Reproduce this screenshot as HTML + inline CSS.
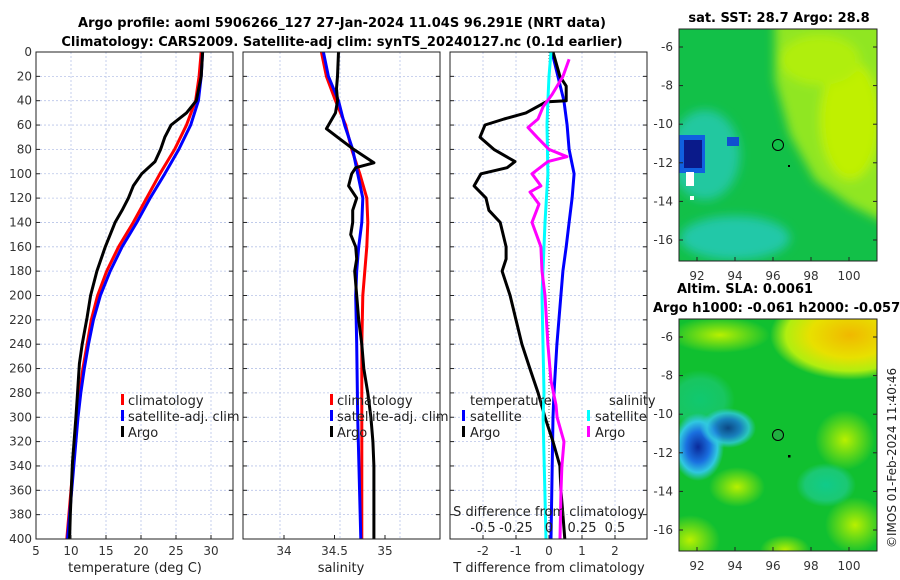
<!DOCTYPE html>
<html><head><meta charset="utf-8"><style>
body{margin:0;background:#fff;}
svg{display:block;font-family:"DejaVu Sans","Liberation Sans",sans-serif;}
</style></head><body>
<svg id="fig" width="900" height="580" viewBox="0 0 900 580">
<defs>
<radialGradient id="gCy" cx="0.5" cy="0.5" r="0.5"><stop offset="0" stop-color="#10d0b0"/><stop offset="0.7" stop-color="#20cc90"/><stop offset="1" stop-color="#20cc90" stop-opacity="0"/></radialGradient>
<radialGradient id="gBlue" cx="0.5" cy="0.5" r="0.5"><stop offset="0" stop-color="#0a2a9a"/><stop offset="0.45" stop-color="#1a70e0"/><stop offset="0.75" stop-color="#30c8e0"/><stop offset="1" stop-color="#30c8e0" stop-opacity="0"/></radialGradient>
<radialGradient id="gOr" cx="0.5" cy="0.5" r="0.5"><stop offset="0" stop-color="#f0b800"/><stop offset="0.5" stop-color="#e8e000"/><stop offset="0.8" stop-color="#b0ee10"/><stop offset="1" stop-color="#b0ee10" stop-opacity="0"/></radialGradient>
<radialGradient id="gLY" cx="0.5" cy="0.5" r="0.5"><stop offset="0" stop-color="#b8f000"/><stop offset="1" stop-color="#b8f000" stop-opacity="0"/></radialGradient>
<filter id="blur" x="-20%" y="-20%" width="140%" height="140%"><feGaussianBlur stdDeviation="5"/></filter>
<clipPath id="cTop"><rect x="679" y="29" width="198" height="232"/></clipPath>
<clipPath id="cBot"><rect x="679" y="319" width="198" height="232"/></clipPath>
</defs>
<text x="342" y="27" text-anchor="middle" font-size="13" font-weight="bold">Argo profile: aoml 5906266_127 27-Jan-2024 11.04S 96.291E (NRT data)</text>
<text x="342" y="46" text-anchor="middle" font-size="13" font-weight="bold">Climatology: CARS2009. Satellite-adj clim: synTS_20240127.nc (0.1d earlier)</text>
<g id="panels"></g>

<!-- top map -->
<g clip-path="url(#cTop)">
<rect x="679" y="29" width="198" height="232" fill="#12c048"/>
<g filter="url(#blur)">
<polygon points="775,20 890,20 890,225 850,205 815,180 790,135 775,80" fill="#90e620"/>
<ellipse cx="850" cy="120" rx="30" ry="60" fill="#c0f000"/>
<ellipse cx="820" cy="60" rx="40" ry="25" fill="#b0ee10"/>
<ellipse cx="705" cy="155" rx="35" ry="45" fill="#20c8a0"/>
<ellipse cx="735" cy="238" rx="55" ry="22" fill="#20c8a8"/>
</g>
<rect x="679" y="135" width="26" height="38" fill="#1060e0"/>
<rect x="684" y="140" width="18" height="28" fill="#0a1a8a"/>
<rect x="727" y="137" width="12" height="9" fill="#1050d0"/>
<rect x="686" y="172" width="8" height="14" fill="#fff"/>
<rect x="690" y="196" width="4" height="4" fill="#fff"/>
<circle cx="778" cy="145" r="5.5" fill="none" stroke="#000" stroke-width="1"/>
<rect x="788" y="165" width="2" height="2" fill="#000"/>
</g>
<rect x="679" y="29" width="198" height="232" fill="none" stroke="#222"/>
<text x="779" y="22" text-anchor="middle" font-size="13" font-weight="bold">sat. SST: 28.7 Argo: 28.8</text>

<!-- bottom map -->
<g clip-path="url(#cBot)">
<rect x="679" y="319" width="198" height="232" fill="#10c030"/>
<ellipse cx="850" cy="335" rx="80" ry="45" fill="url(#gOr)"/>
<ellipse cx="720" cy="335" rx="50" ry="18" fill="url(#gLY)"/>
<ellipse cx="700" cy="400" rx="35" ry="30" fill="url(#gCy)" opacity="0.5"/>
<ellipse cx="698" cy="447" rx="26" ry="34" fill="url(#gBlue)"/>
<ellipse cx="728" cy="428" rx="28" ry="20" fill="url(#gBlue)" opacity="0.8"/>
<ellipse cx="845" cy="440" rx="30" ry="30" fill="url(#gLY)"/>
<ellipse cx="826" cy="485" rx="30" ry="22" fill="url(#gCy)" opacity="0.7"/>
<ellipse cx="737" cy="487" rx="28" ry="20" fill="url(#gLY)"/>
<ellipse cx="855" cy="525" rx="30" ry="28" fill="url(#gLY)"/>
<ellipse cx="690" cy="540" rx="30" ry="25" fill="url(#gLY)"/>
<ellipse cx="785" cy="550" rx="25" ry="15" fill="url(#gLY)"/>
<circle cx="778" cy="435" r="5.5" fill="#20b040" stroke="#000" stroke-width="1"/>
<rect x="788" y="455" width="2.5" height="2.5" fill="#000"/>
</g>
<rect x="679" y="319" width="198" height="232" fill="none" stroke="#222"/>
<text x="677" y="293" font-size="13" font-weight="bold">Altim. SLA: 0.0061</text>
<text x="653" y="312" font-size="13" font-weight="bold">Argo h1000: -0.061 h2000: -0.057</text>
<text transform="translate(896,548) rotate(-90)" font-size="12" fill="#222">©IMOS 01-Feb-2024 11:40:46</text>
<g id="mapaxes"></g>
</svg>
<script>
// ---- data ----
const depthsT = [0,20,40,60,80,100,120,140,160,180,200,220,240,260,280,300,340,380,400];
const tempClim = [28.6,28.3,27.8,26.5,24.8,22.7,20.8,18.9,16.8,15.1,13.8,12.9,12.3,11.7,11.2,10.9,10.3,9.7,9.4];
const tempSat  = [28.8,28.6,28.2,27.1,25.4,23.4,21.3,19.4,17.3,15.6,14.2,13.2,12.5,11.9,11.4,11.0,10.4,9.8,9.5];
const depthsA = [0,20,40,50,60,70,80,90,100,110,120,130,140,160,180,200,218,240,256,283,300,338,380,400];
const tempArgo = [28.8,28.6,27.9,26.5,24.3,23.4,22.8,22.0,20.1,18.9,18.2,17.3,16.3,14.9,13.7,12.8,12.3,11.6,11.2,10.9,10.7,10.2,9.9,9.8];

const depthsS = [0,20,40,60,80,100,120,140,160,180,200,240,300,400];
const salClim = [34.37,34.42,34.51,34.61,34.67,34.75,34.82,34.83,34.82,34.80,34.78,34.77,34.77,34.77];
const salSat  = [34.39,34.44,34.54,34.60,34.68,34.73,34.78,34.77,34.74,34.72,34.71,34.72,34.73,34.76];
const depthsSA = [0,20,30,40,50,63,70,80,91,95,100,110,120,130,140,150,160,170,180,200,220,240,260,280,300,320,340,360,380,400];
const salArgo = [34.54,34.53,34.52,34.53,34.51,34.42,34.53,34.69,34.89,34.71,34.67,34.64,34.72,34.68,34.68,34.66,34.71,34.72,34.70,34.72,34.74,34.77,34.79,34.83,34.86,34.88,34.89,34.89,34.89,34.89];

const depthsD = [0,20,40,60,80,100,120,140,160,180,200,240,280,300,400];
const tDiffSat = [0.09,0.27,0.45,0.55,0.61,0.76,0.70,0.61,0.52,0.42,0.36,0.24,0.15,0.12,0.06];
const depthsDA = [0,20,28,40,41,50,55,60,70,80,90,95,100,110,120,130,140,160,170,180,200,220,240,260,280,300,320,340,360,380,400];
const tDiffArgo = [0.12,0.33,0.52,0.52,-0.09,-0.70,-1.36,-1.94,-2.09,-1.67,-1.03,-1.27,-2.06,-2.27,-1.91,-1.82,-1.48,-1.30,-1.30,-1.42,-1.18,-1.00,-0.82,-0.58,-0.33,-0.12,0.12,0.33,0.36,0.42,0.48];
const depthsDS = [0,20,40,60,100,140,200,280,300,400];
const sDiffSat = [0.015,0.0,-0.008,-0.015,-0.008,-0.03,-0.053,-0.038,-0.045,-0.023];
const depthsDSA = [6,20,35,45,55,62,70,80,86,90,100,110,115,125,140,160,180,200,240,270,290,300,320,340,360,400];
const sDiffArgo = [0.152,0.106,0.023,-0.045,-0.083,-0.159,-0.091,0.0,0.136,-0.008,-0.129,-0.061,-0.144,-0.076,-0.129,-0.061,-0.053,-0.030,-0.008,0.015,0.053,0.061,0.114,0.098,0.091,0.083];

const depthTicks = [0,20,40,60,80,100,120,140,160,180,200,220,240,260,280,300,320,340,360,380,400];
const tempTicks = [5,10,15,20,25,30];
const salTicks = [34,34.5,35];
const tdTicks = [-2,-1,0,1,2];
const sdTicks = [-0.5,-0.25,0,0.25,0.5];
const lonTicks = [92,94,96,98,100];
const latTicks = [-6,-8,-10,-12,-14,-16];

// ---- helpers ----
const NS='http://www.w3.org/2000/svg';
const root=document.getElementById('panels');
function mk(tag,attrs,parent){const e=document.createElementNS(NS,tag);for(const k in attrs)e.setAttribute(k,attrs[k]);(parent||root).appendChild(e);return e;}
const Y0=52,Y1=539;
const yD=d=>Y0+(d/400)*(Y1-Y0);
function lin(d0,d1,p0,p1){return v=>p0+(v-d0)*(p1-p0)/(d1-d0);}
const xT=lin(5,10,36,71);
const xS=lin(34,35,284,385);
const xTD=lin(0,1,549,582);
const xSD=lin(0,1,549,681);

function panel(name,x0,x1,gridX,labelsY){
  const g=mk('g',{});
  
  
  gridX.forEach(x=>{const l=mk('line',{x1:x,x2:x,y1:Y0,y2:Y1,stroke:'#b8c4e8','stroke-width':0.8,'stroke-dasharray':'2,2'},g);
    });
  depthTicks.forEach(d=>{const y=yD(d);
    const l=mk('line',{x1:x0,x2:x1,y1:y,y2:y,stroke:'#b8c4e8','stroke-width':0.8,'stroke-dasharray':'2,2'},g);
    
    mk('line',{x1:x0,x2:x0+4,y1:y,y2:y,stroke:'#222'},g);
    mk('line',{x1:x1-4,x2:x1,y1:y,y2:y,stroke:'#222'},g);
    if(labelsY){const t=mk('text',{x:x0-4,y:y+4,'text-anchor':'end','font-size':12,fill:'#333'},g);t.textContent=d;
      }
  });
  return g;
}
function line(g,xs,ds,fx,color,name){
  const pts=xs.map((v,i)=>fx(v).toFixed(1)+','+yD(ds[i]).toFixed(1)).join(' ');
  const p=mk('polyline',{points:pts,fill:'none',stroke:color,'stroke-width':3,'stroke-linejoin':'round'},g);
  
  
}
function frame(g,x0,x1){const r=mk('rect',{x:x0,y:Y0,width:x1-x0,height:Y1-Y0,fill:'none',stroke:'#222'},g);
  }
function xtick(g,x,label,y,name){mk('line',{x1:x,x2:x,y1:Y1,y2:Y1-4,stroke:'#222'},g);
  const t=mk('text',{x:x,y:y,'text-anchor':'middle','font-size':12,fill:'#333'},g);t.textContent=label;
  }
function txt(g,x,y,s,name,anchor,size){const t=mk('text',{x:x,y:y,'text-anchor':anchor||'start','font-size':size||13,fill:'#222'},g);t.textContent=s;
  return t;}
function legMark(g,x,y,color){const r=mk('rect',{x:x,y:y-11,width:3,height:11,fill:color},g);
  }

// panel 1 temperature
let g1=panel('temperature-panel',36,233,tempTicks.map(xT),true);
line(g1,tempClim,depthsT,xT,'#f00','climatology-temp-line');
line(g1,tempSat,depthsT,xT,'#00f','satellite-temp-line');
line(g1,tempArgo,depthsA,xT,'#000','argo-temp-line');
frame(g1,36,233);
tempTicks.forEach(v=>xtick(g1,xT(v),v,555,'temp-tick-label'));
txt(g1,135,572,'temperature (deg C)','x-axis-title-temperature','middle');
legMark(g1,121,405,'#f00');txt(g1,128,405,'climatology','legend-entry-climatology');
legMark(g1,121,421,'#00f');txt(g1,128,421,'satellite-adj. clim','legend-entry-satellite');
legMark(g1,121,437,'#000');txt(g1,128,437,'Argo','legend-entry-argo');

// panel 2 salinity
let g2=panel('salinity-panel',243,440,[280,340,400],false);
line(g2,salClim,depthsS,xS,'#f00','climatology-sal-line');
line(g2,salSat,depthsS,xS,'#00f','satellite-sal-line');
line(g2,salArgo,depthsSA,xS,'#000','argo-sal-line');
frame(g2,243,440);
salTicks.forEach(v=>xtick(g2,xS(v),v,555,'sal-tick-label'));
txt(g2,341,572,'salinity','x-axis-title-salinity','middle');
legMark(g2,330,405,'#f00');txt(g2,337,405,'climatology','legend-entry-climatology');
legMark(g2,330,421,'#00f');txt(g2,337,421,'satellite-adj. clim','legend-entry-satellite');
legMark(g2,330,437,'#000');txt(g2,337,437,'Argo','legend-entry-argo');

// panel 3 differences
let g3=panel('difference-panel',450,647,tdTicks.filter(v=>v!==0).map(xTD),false);
const z=mk('line',{x1:xTD(0),x2:xTD(0),y1:Y0,y2:Y1,stroke:'#555','stroke-width':1,'stroke-dasharray':'1,2'},g3);

line(g3,tDiffSat,depthsD,xTD,'#00f','satellite-tdiff-line');
line(g3,tDiffArgo,depthsDA,xTD,'#000','argo-tdiff-line');
line(g3,sDiffSat,depthsDS,xSD,'#0ff','satellite-sdiff-line');
line(g3,sDiffArgo,depthsDSA,xSD,'#f0f','argo-sdiff-line');
frame(g3,450,647);
tdTicks.forEach(v=>xtick(g3,xTD(v),v,555,'tdiff-tick-label'));
sdTicks.forEach(v=>{txt(g3,xSD(v),532,String(v),'sdiff-tick-label','middle');});
txt(g3,549,516,'S difference from climatology','sdiff-axis-title','middle');
txt(g3,549,572,'T difference from climatology','x-axis-title-tdiff','middle');
txt(g3,470,405,'temperature','legend-title-temperature');
txt(g3,609,405,'salinity','legend-title-salinity');
legMark(g3,462,421,'#00f');txt(g3,470,421,'satellite','legend-entry-t-satellite');
legMark(g3,462,437,'#000');txt(g3,470,437,'Argo','legend-entry-t-argo');
legMark(g3,587,421,'#0ff');txt(g3,595,421,'satellite','legend-entry-s-satellite');
legMark(g3,587,437,'#f0f');txt(g3,595,437,'Argo','legend-entry-s-argo');

// map axes
const ma=document.getElementById('mapaxes');
const xLon=lin(92,100,697,849);
function mapAxes(top,latY,labY){
  lonTicks.forEach(v=>{const x=xLon(v);
    mk('line',{x1:x,x2:x,y1:top+232,y2:top+228,stroke:'#222'},ma);
    const t=mk('text',{x:x,y:labY,'text-anchor':'middle','font-size':12,fill:'#333'},ma);t.textContent=v;
    });
  latTicks.forEach(v=>{const y=latY(v);
    mk('line',{x1:679,x2:683,y1:y,y2:y,stroke:'#222'},ma);
    mk('line',{x1:873,x2:877,y1:y,y2:y,stroke:'#222'},ma);
    const t=mk('text',{x:673,y:y+4,'text-anchor':'end','font-size':12,fill:'#333'},ma);t.textContent=v;
    });
}
mapAxes(29,lin(-6,-16,47,240),280);
mapAxes(319,lin(-6,-16,337,530),570);
</script>
</body></html>
